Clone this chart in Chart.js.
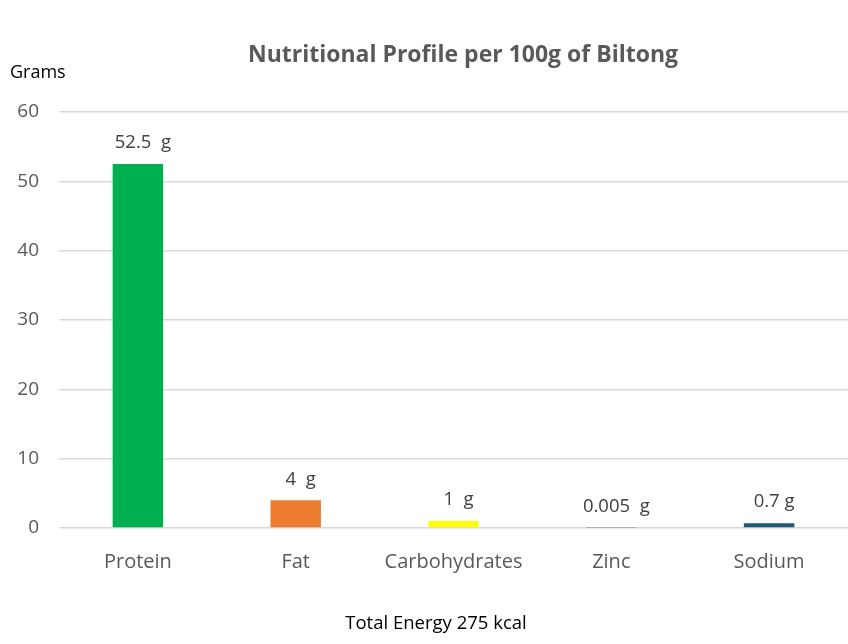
<!DOCTYPE html>
<html>
<head>
<meta charset="utf-8">
<script src="https://cdn.jsdelivr.net/npm/chart.js@4"></script>
<style>
  html, body { margin: 0; padding: 0; background: #fff; }
  #wrap { width: 848px; height: 644px; }
</style>
</head>
<body>
<div id="wrap"><canvas id="chart" width="848" height="644"></canvas></div>
<script>
const categories = ['Protein', 'Fat', 'Carbohydrates', 'Zinc', 'Sodium'];
const grams = [52.5, 4, 1, 0.005, 0.7];
const valueLabels = ['52.5  g', '4  g', '1  g', '0.005  g', '0.7 g'];
const barColors = ['#00B050', '#ED7D31', '#FFFF00', '#A5A5A5', '#1F5A78'];
const yTicks = [0, 10, 20, 30, 40, 50, 60];

const fontFamily = '"Open Sans", "Noto Sans", sans-serif';

// Draws the title, the "Grams" caption, the value labels and the footnote
const textPlugin = {
    id: 'texts',
    afterDatasetsDraw(chart) {
        const ctx = chart.ctx;
        ctx.save();
        ctx.textAlign = 'center';
        ctx.textBaseline = 'middle';

        ctx.fillStyle = '#595959';
        ctx.font = 'bold 23px ' + fontFamily;
        ctx.fillText('Nutritional Profile per 100g of Biltong', 463, 55);

        ctx.fillStyle = '#000';
        ctx.font = '18px ' + fontFamily;
        ctx.textAlign = 'left';
        ctx.fillText('Grams', 10, 73);

        ctx.textAlign = 'center';
        ctx.font = '18.5px ' + fontFamily;
        ctx.fillText('Total Energy 275 kcal', 436, 624);

        ctx.fillStyle = '#404040';
        ctx.font = '18.5px ' + fontFamily;
        chart.getDatasetMeta(0).data.forEach((bar, i) => {
            ctx.fillText(valueLabels[i], bar.x + 5, bar.y - 21);
        });
        ctx.restore();
    }
};

new Chart(document.getElementById('chart'), {
    type: 'bar',
    data: {
        labels: categories,
        datasets: [{
            data: grams,
            backgroundColor: barColors,
            borderWidth: 0,
            barPercentage: 0.32,
            categoryPercentage: 1.0
        }]
    },
    options: {
        responsive: false,
        animation: false,
        layout: { padding: { top: 112, left: 0, right: 0, bottom: 0 } },
        plugins: {
            legend: { display: false },
            tooltip: { enabled: false }
        },
        scales: {
            x: {
                grid: { display: false },
                border: { display: false },
                ticks: {
                    color: '#595959',
                    font: { family: fontFamily, size: 20 },
                    padding: 14
                },
                afterFit(scale) { scale.height = 116; }
            },
            y: {
                min: 0,
                max: 60,
                afterBuildTicks(scale) { scale.ticks = yTicks.map(v => ({ value: v })); },
                grid: { color: '#D9D9D9', lineWidth: 1.5, drawTicks: false },
                border: { display: false },
                ticks: {
                    color: '#595959',
                    font: { family: fontFamily, size: 19 },
                    padding: 20
                },
                afterFit(scale) { scale.width = 59; }
            }
        }
    },
    plugins: [textPlugin]
});
</script>
</body>
</html>
